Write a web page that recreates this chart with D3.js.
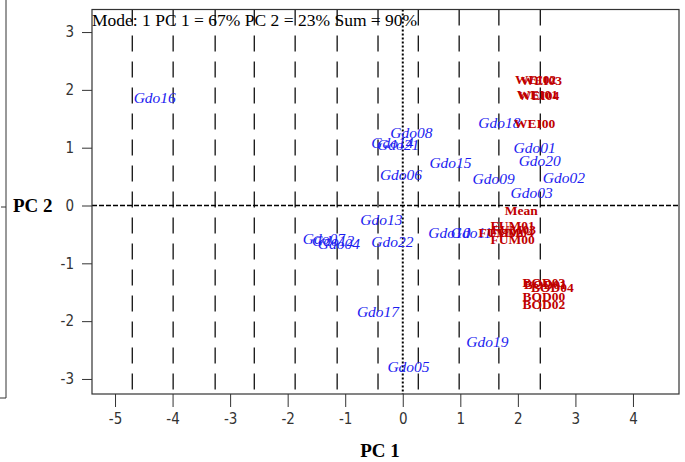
<!DOCTYPE html>
<html>
<head>
<meta charset="utf-8">
<title>GGE biplot</title>
<script src="https://d3js.org/d3.v7.min.js"></script>
<style>
  body { margin: 0; background: #fff; }
  .tick text { font-family: "DejaVu Sans Condensed", "Liberation Sans Narrow", sans-serif; font-stretch: condensed; font-size: 15px; fill: #333; }
  .gen { font-family: "Liberation Serif", "Times New Roman", serif; font-style: italic; font-size: 15.5px; fill: #1c1cf0; }
  .env { font-family: "Liberation Serif", "Times New Roman", serif; font-weight: bold; font-size: 13.5px; fill: #c00000; }
  .ttl { font-family: "Liberation Serif", "Times New Roman", serif; font-size: 17.5px; fill: #000; }
  .lab { font-family: "Liberation Serif", "Times New Roman", serif; font-weight: bold; font-size: 19px; fill: #000; }
</style>
</head>
<body>
<svg width="685" height="462"></svg>
<script>
// genotypes (blue) -- label centres in PC units
var genNames = ["Gdo01","Gdo02","Gdo03","Gdo04","Gdo05","Gdo06","Gdo07","Gdo08","Gdo09","Gdo10","Gdo11",
                "Gdo12","Gdo13","Gdo14","Gdo15","Gdo16","Gdo17","Gdo18","Gdo19","Gdo20","Gdo21","Gdo22"];
var genPC1 = [2.29, 2.80, 2.24, -1.11, 0.10, -0.03, -1.37, 0.15, 1.58, 0.81, 1.19,
              -1.21, -0.37, -0.18, 0.83, -4.31, -0.43, 1.68, 1.47, 2.38, -0.08, -0.18];
var genPC2 = [1.01, 0.49, 0.22, -0.65, -2.78, 0.54, -0.58, 1.27, 0.46, -0.46, -0.46,
              -0.61, -0.25, 1.08, 0.74, 1.86, -1.83, 1.43, -2.36, 0.77, 1.06, -0.63];

// environments (red)
var envNames = ["WEI00","WEI01","WEI02","WEI03","WEI04","FUM02","FUM00","FUM01","FUM03","FUM04",
                "BOD00","BOD01","BOD02","BOD03","BOD04","Mean"];
var envPC1 = [2.29, 2.34, 2.31, 2.41, 2.36, 1.70, 1.91, 1.91, 1.93, 1.89, 2.45, 2.48, 2.45, 2.45, 2.60, 2.06];
var envPC2 = [1.43, 1.93, 2.19, 2.17, 1.91, -0.46, -0.58, -0.35, -0.41, -0.46, -1.57, -1.36, -1.70, -1.32, -1.41, -0.08];

// dashed vertical lines
var vLines = [-4.70, -3.99, -3.26, -2.58, -1.87, -1.14, -0.43, 0.27, 0.98, 1.67, 2.39];

var xTicks = [-5, -4, -3, -2, -1, 0, 1, 2, 3, 4];
var yTicks = [3, 2, 1, 0, -1, -2, -3];
var title = "Mode: 1 PC 1 = 67% PC 2 = 23% Sum = 90%";

var svg = d3.select("svg"),
    margin = {top: 9.5, left: 92, right: 6, bottom: 68},
    width = 685 - margin.left - margin.right,
    height = 462 - margin.top - margin.bottom;

var x = d3.scaleLinear().domain([-5.40, 4.80]).range([0, width]);
var y = d3.scaleLinear().domain([-3.26, 3.39]).range([height, 0]);

var g = svg.append("g").attr("transform", "translate(" + margin.left + "," + margin.top + ")");

// odd frame piece at far left
svg.append("path").attr("d", "M0,398H6V0").attr("fill", "none").attr("stroke", "#333");
svg.append("line").attr("x1", 1).attr("x2", 6).attr("y1", 207).attr("y2", 207).attr("stroke", "#333");

g.selectAll(".vl").data(vLines).enter().append("line")
    .attr("class", "vl")
    .attr("x1", function(d) { return x(d); }).attr("x2", function(d) { return x(d); })
    .attr("y1", 0).attr("y2", height)
    .attr("stroke", "#111").attr("stroke-width", 1.3).attr("stroke-dasharray", "16,10");

// axes through origin
g.append("line").attr("x1", 0).attr("x2", width).attr("y1", y(0)).attr("y2", y(0))
    .attr("stroke", "#000").attr("stroke-width", 1.5).attr("stroke-dasharray", "5,2");
g.append("line").attr("x1", x(0)).attr("x2", x(0)).attr("y1", 0).attr("y2", height)
    .attr("stroke", "#000").attr("stroke-width", 2).attr("stroke-dasharray", "2,2");

// frame
g.append("rect").attr("width", width).attr("height", height)
    .attr("fill", "none").attr("stroke", "#333").attr("stroke-width", 1.2);

var fmt = function(d) { return String(d); };
var xAxis = g.append("g").attr("transform", "translate(0," + height + ")")
    .call(d3.axisBottom(x).tickValues(xTicks).tickSize(13).tickPadding(6).tickFormat(fmt));
var yAxis = g.append("g")
    .call(d3.axisLeft(y).tickValues(yTicks).tickSize(10).tickPadding(8).tickFormat(fmt));
[xAxis, yAxis].forEach(function(a) {
  a.select(".domain").remove();
  a.selectAll(".tick line").attr("stroke", "#333");
});

g.append("text").attr("class", "ttl").attr("x", 0).attr("y", 16).text(title);

g.selectAll(".gen").data(genNames).enter().append("text")
    .attr("class", "gen")
    .attr("text-anchor", "middle")
    .attr("x", function(d, i) { return x(genPC1[i]); })
    .attr("y", function(d, i) { return y(genPC2[i]); })
    .attr("dy", "0.35em")
    .text(function(d) { return d; });

g.selectAll(".env").data(envNames).enter().append("text")
    .attr("class", "env")
    .attr("text-anchor", "middle")
    .attr("x", function(d, i) { return x(envPC1[i]); })
    .attr("y", function(d, i) { return y(envPC2[i]); })
    .attr("dy", "0.35em")
    .text(function(d) { return d; });

svg.append("text").attr("class", "lab").attr("x", 380).attr("y", 457).attr("text-anchor", "middle").text("PC 1");
svg.append("text").attr("class", "lab").attr("x", 13).attr("y", 212).text("PC 2");
</script>
</body>
</html>
